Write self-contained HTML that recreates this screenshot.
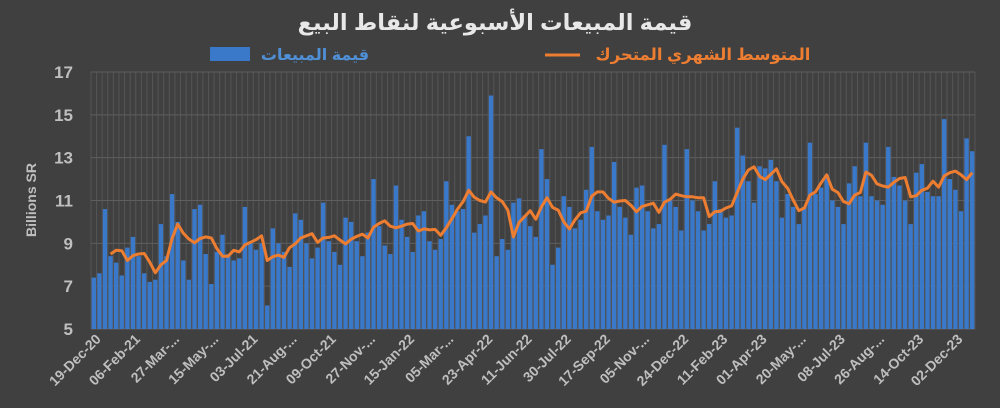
<!DOCTYPE html>
<html><head><meta charset="utf-8"><style>
body{margin:0;background:#404040;width:1000px;height:408px;overflow:hidden}
svg{display:block}
text{font-family:"Liberation Sans","DejaVu Sans",sans-serif;font-weight:bold}
</style></head><body>
<svg id="c" width="1000" height="408" xmlns="http://www.w3.org/2000/svg">
<rect width="1000" height="408" fill="#404040"/>
<text x="495" y="30" text-anchor="middle" font-size="22.5" fill="#e8e8e8">قيمة المبيعات الأسبوعية لنقاط البيع</text>
<rect x="210" y="47" width="40" height="14" fill="#3a78c9"/>
<text x="315" y="60" text-anchor="middle" font-size="16" fill="#4f8fd6">قيمة المبيعات</text>
<line x1="545" y1="55" x2="580" y2="55" stroke="#ed7d31" stroke-width="3"/>
<text x="703" y="60" text-anchor="middle" font-size="16.5" fill="#ed7d31">المتوسط الشهري المتحرك</text>
<text transform="translate(36,200) rotate(-90)" text-anchor="middle" font-size="14" fill="#bfbfbf">Billions SR</text>
<g id="g"></g>
</svg>
<script>
var d=[7.4,7.6,10.6,8.4,8.1,7.5,8.8,9.3,8.4,7.6,7.2,7.3,9.9,8.4,11.3,10.0,8.2,7.3,10.6,10.8,8.5,7.1,8.6,9.4,8.5,8.2,8.3,10.7,9.0,8.7,9.0,6.1,9.7,9.0,8.6,7.9,10.4,10.1,9.0,8.3,8.8,10.9,9.1,8.6,8.0,10.2,10.0,9.1,8.4,9.5,12.0,9.8,
8.9,8.5,11.7,10.1,9.3,8.6,10.3,10.5,9.1,8.7,9.2,11.9,10.8,10.5,10.6,14.0,9.5,9.9,10.3,15.9,8.4,9.2,8.7,10.9,11.1,10.3,9.8,9.3,13.4,12.0,8.0,8.8,11.2,10.7,9.7,10.1,11.5,13.5,10.5,10.1,10.3,12.8,10.7,10.2,9.4,11.6,11.7,10.5,9.7,9.9,13.6,11.0,10.7,
9.6,13.4,11.0,10.5,9.6,9.9,11.9,10.6,10.2,10.3,14.4,13.1,11.9,10.9,12.6,12.5,12.9,11.9,10.2,11.3,10.7,9.9,10.7,13.7,11.3,11.6,12.2,11.0,10.7,9.9,11.8,12.6,11.2,13.7,11.2,11.0,10.8,13.5,12.1,11.7,11.0,9.9,12.3,12.7,11.4,11.2,11.2,14.8,12.0,11.5,10.5,13.9,13.3];
var L=91,R=975,T=72,B=329,n=d.length,p=(R-L)/n;
function Y(v){return B-(v-5)*(B-T)/12}
var s='';
for(var i=0;i<=n;i++){var x=L+i*p;s+='<line x1="'+x+'" y1="'+T+'" x2="'+x+'" y2="'+B+'" stroke="#555" stroke-width="1"/>';}
for(var v=5;v<=17;v+=2){var y=Y(v);s+='<line x1="'+L+'" y1="'+y+'" x2="'+R+'" y2="'+y+'" stroke="#5e5e5e" stroke-width="1"/>';
s+='<text x="73" y="'+(y+6)+'" text-anchor="end" font-size="17" fill="#bfbfbf">'+v+'</text>';}
for(var i=0;i<n;i++){var x=L+i*p+0.6,y=Y(d[i]);s+='<rect x="'+x+'" y="'+y+'" width="'+(p-1.2)+'" height="'+(B-y)+'" fill="#3a78c9"/>';}
var pts=[];for(var i=3;i<n;i++){var m=(d[i]+d[i-1]+d[i-2]+d[i-3])/4;pts.push((L+(i+0.5)*p).toFixed(1)+','+Y(m).toFixed(1));}
s+='<polyline points="'+pts.join(' ')+'" fill="none" stroke="#ed7d31" stroke-width="3" stroke-linejoin="round"/>';
var labs=['19-Dec-20','06-Feb-21','27-Mar-...','15-May-...','03-Jul-21','21-Aug-...','09-Oct-21','27-Nov-...','15-Jan-22','05-Mar-...','23-Apr-22','11-Jun-22','30-Jul-22','17-Sep-22','05-Nov-...','24-Dec-22','11-Feb-23','01-Apr-23','20-May-...','08-Jul-23','26-Aug-...','14-Oct-23','02-Dec-23'];
for(var k=0;k<labs.length;k++){var x=L+(k*7+0.5)*p+8;s+='<text transform="translate('+x+',340) rotate(-45)" text-anchor="end" font-size="14" fill="#bfbfbf">'+labs[k]+'</text>';}
document.getElementById('g').innerHTML=s;
</script>
</body></html>
